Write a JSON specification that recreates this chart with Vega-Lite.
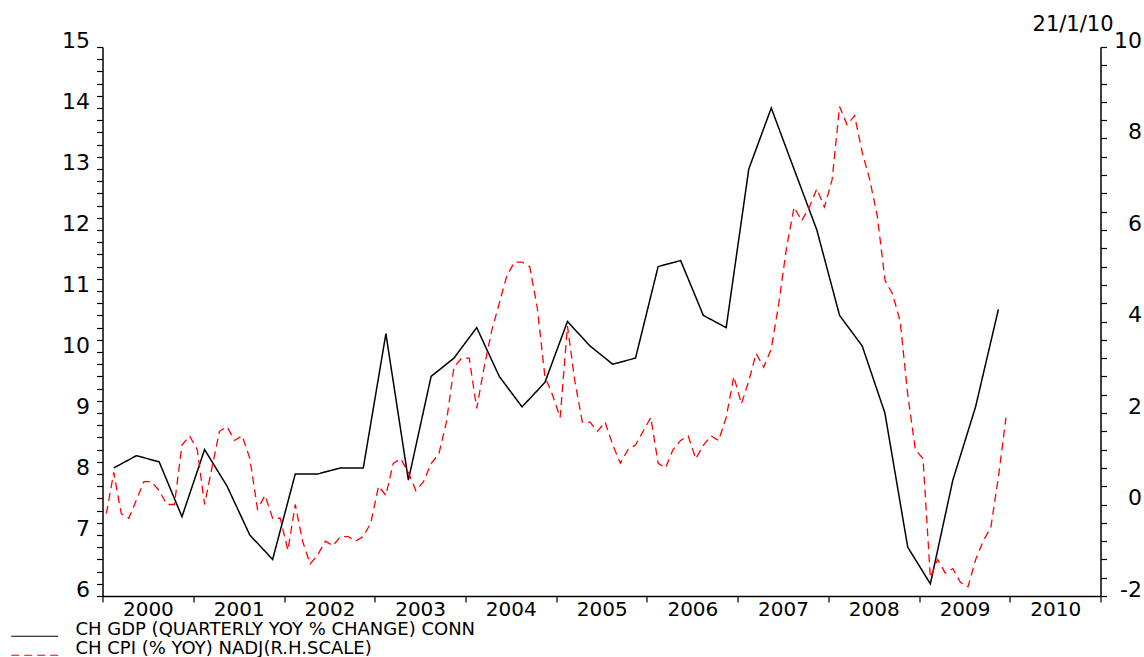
{
"$schema": "https://vega.github.io/schema/vega-lite/v6.json",
"width": 998, "height": 549,
"autosize": {"type": "none"},
"padding": {"left": 102.5, "top": 47, "right": 43.5, "bottom": 61},
"background": "white",
"title": {"text": "21/1/10", "anchor": "end", "frame": "group", "font": "DejaVu Sans", "fontSize": 21, "fontWeight": "normal", "color": "black", "dx": 13, "dy": 8, "offset": 2},
"config": {"view": {"stroke": null}},
"datasets": {
"gdp": [
{"date":"2000-02-15","value":8.1,"series":"CH GDP (QUARTERLY YOY % CHANGE) CONN"},
{"date":"2000-05-15","value":8.3,"series":"CH GDP (QUARTERLY YOY % CHANGE) CONN"},
{"date":"2000-08-15","value":8.2,"series":"CH GDP (QUARTERLY YOY % CHANGE) CONN"},
{"date":"2000-11-15","value":7.3,"series":"CH GDP (QUARTERLY YOY % CHANGE) CONN"},
{"date":"2001-02-15","value":8.4,"series":"CH GDP (QUARTERLY YOY % CHANGE) CONN"},
{"date":"2001-05-15","value":7.8,"series":"CH GDP (QUARTERLY YOY % CHANGE) CONN"},
{"date":"2001-08-15","value":7.0,"series":"CH GDP (QUARTERLY YOY % CHANGE) CONN"},
{"date":"2001-11-15","value":6.6,"series":"CH GDP (QUARTERLY YOY % CHANGE) CONN"},
{"date":"2002-02-15","value":8.0,"series":"CH GDP (QUARTERLY YOY % CHANGE) CONN"},
{"date":"2002-05-15","value":8.0,"series":"CH GDP (QUARTERLY YOY % CHANGE) CONN"},
{"date":"2002-08-15","value":8.1,"series":"CH GDP (QUARTERLY YOY % CHANGE) CONN"},
{"date":"2002-11-15","value":8.1,"series":"CH GDP (QUARTERLY YOY % CHANGE) CONN"},
{"date":"2003-02-15","value":10.3,"series":"CH GDP (QUARTERLY YOY % CHANGE) CONN"},
{"date":"2003-05-15","value":7.9,"series":"CH GDP (QUARTERLY YOY % CHANGE) CONN"},
{"date":"2003-08-15","value":9.6,"series":"CH GDP (QUARTERLY YOY % CHANGE) CONN"},
{"date":"2003-11-15","value":9.9,"series":"CH GDP (QUARTERLY YOY % CHANGE) CONN"},
{"date":"2004-02-15","value":10.4,"series":"CH GDP (QUARTERLY YOY % CHANGE) CONN"},
{"date":"2004-05-15","value":9.6,"series":"CH GDP (QUARTERLY YOY % CHANGE) CONN"},
{"date":"2004-08-15","value":9.1,"series":"CH GDP (QUARTERLY YOY % CHANGE) CONN"},
{"date":"2004-11-15","value":9.5,"series":"CH GDP (QUARTERLY YOY % CHANGE) CONN"},
{"date":"2005-02-15","value":10.5,"series":"CH GDP (QUARTERLY YOY % CHANGE) CONN"},
{"date":"2005-05-15","value":10.1,"series":"CH GDP (QUARTERLY YOY % CHANGE) CONN"},
{"date":"2005-08-15","value":9.8,"series":"CH GDP (QUARTERLY YOY % CHANGE) CONN"},
{"date":"2005-11-15","value":9.9,"series":"CH GDP (QUARTERLY YOY % CHANGE) CONN"},
{"date":"2006-02-15","value":11.4,"series":"CH GDP (QUARTERLY YOY % CHANGE) CONN"},
{"date":"2006-05-15","value":11.5,"series":"CH GDP (QUARTERLY YOY % CHANGE) CONN"},
{"date":"2006-08-15","value":10.6,"series":"CH GDP (QUARTERLY YOY % CHANGE) CONN"},
{"date":"2006-11-15","value":10.4,"series":"CH GDP (QUARTERLY YOY % CHANGE) CONN"},
{"date":"2007-02-15","value":13.0,"series":"CH GDP (QUARTERLY YOY % CHANGE) CONN"},
{"date":"2007-05-15","value":14.0,"series":"CH GDP (QUARTERLY YOY % CHANGE) CONN"},
{"date":"2007-08-15","value":13.0,"series":"CH GDP (QUARTERLY YOY % CHANGE) CONN"},
{"date":"2007-11-15","value":12.0,"series":"CH GDP (QUARTERLY YOY % CHANGE) CONN"},
{"date":"2008-02-15","value":10.6,"series":"CH GDP (QUARTERLY YOY % CHANGE) CONN"},
{"date":"2008-05-15","value":10.1,"series":"CH GDP (QUARTERLY YOY % CHANGE) CONN"},
{"date":"2008-08-15","value":9.0,"series":"CH GDP (QUARTERLY YOY % CHANGE) CONN"},
{"date":"2008-11-15","value":6.8,"series":"CH GDP (QUARTERLY YOY % CHANGE) CONN"},
{"date":"2009-02-15","value":6.2,"series":"CH GDP (QUARTERLY YOY % CHANGE) CONN"},
{"date":"2009-05-15","value":7.9,"series":"CH GDP (QUARTERLY YOY % CHANGE) CONN"},
{"date":"2009-08-15","value":9.1,"series":"CH GDP (QUARTERLY YOY % CHANGE) CONN"},
{"date":"2009-11-15","value":10.7,"series":"CH GDP (QUARTERLY YOY % CHANGE) CONN"}
],
"cpi": [
{"date":"2000-01-15","value":-0.2,"series":"CH CPI (% YOY) NADJ(R.H.SCALE)"},
{"date":"2000-02-15","value":0.7,"series":"CH CPI (% YOY) NADJ(R.H.SCALE)"},
{"date":"2000-03-15","value":-0.2,"series":"CH CPI (% YOY) NADJ(R.H.SCALE)"},
{"date":"2000-04-15","value":-0.3,"series":"CH CPI (% YOY) NADJ(R.H.SCALE)"},
{"date":"2000-05-15","value":0.1,"series":"CH CPI (% YOY) NADJ(R.H.SCALE)"},
{"date":"2000-06-15","value":0.5,"series":"CH CPI (% YOY) NADJ(R.H.SCALE)"},
{"date":"2000-07-15","value":0.5,"series":"CH CPI (% YOY) NADJ(R.H.SCALE)"},
{"date":"2000-08-15","value":0.3,"series":"CH CPI (% YOY) NADJ(R.H.SCALE)"},
{"date":"2000-09-15","value":0.0,"series":"CH CPI (% YOY) NADJ(R.H.SCALE)"},
{"date":"2000-10-15","value":0.0,"series":"CH CPI (% YOY) NADJ(R.H.SCALE)"},
{"date":"2000-11-15","value":1.3,"series":"CH CPI (% YOY) NADJ(R.H.SCALE)"},
{"date":"2000-12-15","value":1.5,"series":"CH CPI (% YOY) NADJ(R.H.SCALE)"},
{"date":"2001-01-15","value":1.2,"series":"CH CPI (% YOY) NADJ(R.H.SCALE)"},
{"date":"2001-02-15","value":0.0,"series":"CH CPI (% YOY) NADJ(R.H.SCALE)"},
{"date":"2001-03-15","value":0.8,"series":"CH CPI (% YOY) NADJ(R.H.SCALE)"},
{"date":"2001-04-15","value":1.6,"series":"CH CPI (% YOY) NADJ(R.H.SCALE)"},
{"date":"2001-05-15","value":1.7,"series":"CH CPI (% YOY) NADJ(R.H.SCALE)"},
{"date":"2001-06-15","value":1.4,"series":"CH CPI (% YOY) NADJ(R.H.SCALE)"},
{"date":"2001-07-15","value":1.5,"series":"CH CPI (% YOY) NADJ(R.H.SCALE)"},
{"date":"2001-08-15","value":1.0,"series":"CH CPI (% YOY) NADJ(R.H.SCALE)"},
{"date":"2001-09-15","value":-0.1,"series":"CH CPI (% YOY) NADJ(R.H.SCALE)"},
{"date":"2001-10-15","value":0.2,"series":"CH CPI (% YOY) NADJ(R.H.SCALE)"},
{"date":"2001-11-15","value":-0.3,"series":"CH CPI (% YOY) NADJ(R.H.SCALE)"},
{"date":"2001-12-15","value":-0.3,"series":"CH CPI (% YOY) NADJ(R.H.SCALE)"},
{"date":"2002-01-15","value":-1.0,"series":"CH CPI (% YOY) NADJ(R.H.SCALE)"},
{"date":"2002-02-15","value":0.0,"series":"CH CPI (% YOY) NADJ(R.H.SCALE)"},
{"date":"2002-03-15","value":-0.8,"series":"CH CPI (% YOY) NADJ(R.H.SCALE)"},
{"date":"2002-04-15","value":-1.3,"series":"CH CPI (% YOY) NADJ(R.H.SCALE)"},
{"date":"2002-05-15","value":-1.1,"series":"CH CPI (% YOY) NADJ(R.H.SCALE)"},
{"date":"2002-06-15","value":-0.8,"series":"CH CPI (% YOY) NADJ(R.H.SCALE)"},
{"date":"2002-07-15","value":-0.9,"series":"CH CPI (% YOY) NADJ(R.H.SCALE)"},
{"date":"2002-08-15","value":-0.7,"series":"CH CPI (% YOY) NADJ(R.H.SCALE)"},
{"date":"2002-09-15","value":-0.7,"series":"CH CPI (% YOY) NADJ(R.H.SCALE)"},
{"date":"2002-10-15","value":-0.8,"series":"CH CPI (% YOY) NADJ(R.H.SCALE)"},
{"date":"2002-11-15","value":-0.7,"series":"CH CPI (% YOY) NADJ(R.H.SCALE)"},
{"date":"2002-12-15","value":-0.4,"series":"CH CPI (% YOY) NADJ(R.H.SCALE)"},
{"date":"2003-01-15","value":0.4,"series":"CH CPI (% YOY) NADJ(R.H.SCALE)"},
{"date":"2003-02-15","value":0.2,"series":"CH CPI (% YOY) NADJ(R.H.SCALE)"},
{"date":"2003-03-15","value":0.9,"series":"CH CPI (% YOY) NADJ(R.H.SCALE)"},
{"date":"2003-04-15","value":1.0,"series":"CH CPI (% YOY) NADJ(R.H.SCALE)"},
{"date":"2003-05-15","value":0.7,"series":"CH CPI (% YOY) NADJ(R.H.SCALE)"},
{"date":"2003-06-15","value":0.3,"series":"CH CPI (% YOY) NADJ(R.H.SCALE)"},
{"date":"2003-07-15","value":0.5,"series":"CH CPI (% YOY) NADJ(R.H.SCALE)"},
{"date":"2003-08-15","value":0.9,"series":"CH CPI (% YOY) NADJ(R.H.SCALE)"},
{"date":"2003-09-15","value":1.1,"series":"CH CPI (% YOY) NADJ(R.H.SCALE)"},
{"date":"2003-10-15","value":1.8,"series":"CH CPI (% YOY) NADJ(R.H.SCALE)"},
{"date":"2003-11-15","value":3.0,"series":"CH CPI (% YOY) NADJ(R.H.SCALE)"},
{"date":"2003-12-15","value":3.2,"series":"CH CPI (% YOY) NADJ(R.H.SCALE)"},
{"date":"2004-01-15","value":3.2,"series":"CH CPI (% YOY) NADJ(R.H.SCALE)"},
{"date":"2004-02-15","value":2.1,"series":"CH CPI (% YOY) NADJ(R.H.SCALE)"},
{"date":"2004-03-15","value":3.0,"series":"CH CPI (% YOY) NADJ(R.H.SCALE)"},
{"date":"2004-04-15","value":3.8,"series":"CH CPI (% YOY) NADJ(R.H.SCALE)"},
{"date":"2004-05-15","value":4.4,"series":"CH CPI (% YOY) NADJ(R.H.SCALE)"},
{"date":"2004-06-15","value":5.0,"series":"CH CPI (% YOY) NADJ(R.H.SCALE)"},
{"date":"2004-07-15","value":5.3,"series":"CH CPI (% YOY) NADJ(R.H.SCALE)"},
{"date":"2004-08-15","value":5.3,"series":"CH CPI (% YOY) NADJ(R.H.SCALE)"},
{"date":"2004-09-15","value":5.2,"series":"CH CPI (% YOY) NADJ(R.H.SCALE)"},
{"date":"2004-10-15","value":4.3,"series":"CH CPI (% YOY) NADJ(R.H.SCALE)"},
{"date":"2004-11-15","value":2.8,"series":"CH CPI (% YOY) NADJ(R.H.SCALE)"},
{"date":"2004-12-15","value":2.4,"series":"CH CPI (% YOY) NADJ(R.H.SCALE)"},
{"date":"2005-01-15","value":1.9,"series":"CH CPI (% YOY) NADJ(R.H.SCALE)"},
{"date":"2005-02-15","value":3.9,"series":"CH CPI (% YOY) NADJ(R.H.SCALE)"},
{"date":"2005-03-15","value":2.7,"series":"CH CPI (% YOY) NADJ(R.H.SCALE)"},
{"date":"2005-04-15","value":1.8,"series":"CH CPI (% YOY) NADJ(R.H.SCALE)"},
{"date":"2005-05-15","value":1.8,"series":"CH CPI (% YOY) NADJ(R.H.SCALE)"},
{"date":"2005-06-15","value":1.6,"series":"CH CPI (% YOY) NADJ(R.H.SCALE)"},
{"date":"2005-07-15","value":1.8,"series":"CH CPI (% YOY) NADJ(R.H.SCALE)"},
{"date":"2005-08-15","value":1.3,"series":"CH CPI (% YOY) NADJ(R.H.SCALE)"},
{"date":"2005-09-15","value":0.9,"series":"CH CPI (% YOY) NADJ(R.H.SCALE)"},
{"date":"2005-10-15","value":1.2,"series":"CH CPI (% YOY) NADJ(R.H.SCALE)"},
{"date":"2005-11-15","value":1.3,"series":"CH CPI (% YOY) NADJ(R.H.SCALE)"},
{"date":"2005-12-15","value":1.6,"series":"CH CPI (% YOY) NADJ(R.H.SCALE)"},
{"date":"2006-01-15","value":1.9,"series":"CH CPI (% YOY) NADJ(R.H.SCALE)"},
{"date":"2006-02-15","value":0.9,"series":"CH CPI (% YOY) NADJ(R.H.SCALE)"},
{"date":"2006-03-15","value":0.8,"series":"CH CPI (% YOY) NADJ(R.H.SCALE)"},
{"date":"2006-04-15","value":1.2,"series":"CH CPI (% YOY) NADJ(R.H.SCALE)"},
{"date":"2006-05-15","value":1.4,"series":"CH CPI (% YOY) NADJ(R.H.SCALE)"},
{"date":"2006-06-15","value":1.5,"series":"CH CPI (% YOY) NADJ(R.H.SCALE)"},
{"date":"2006-07-15","value":1.0,"series":"CH CPI (% YOY) NADJ(R.H.SCALE)"},
{"date":"2006-08-15","value":1.3,"series":"CH CPI (% YOY) NADJ(R.H.SCALE)"},
{"date":"2006-09-15","value":1.5,"series":"CH CPI (% YOY) NADJ(R.H.SCALE)"},
{"date":"2006-10-15","value":1.4,"series":"CH CPI (% YOY) NADJ(R.H.SCALE)"},
{"date":"2006-11-15","value":1.9,"series":"CH CPI (% YOY) NADJ(R.H.SCALE)"},
{"date":"2006-12-15","value":2.8,"series":"CH CPI (% YOY) NADJ(R.H.SCALE)"},
{"date":"2007-01-15","value":2.2,"series":"CH CPI (% YOY) NADJ(R.H.SCALE)"},
{"date":"2007-02-15","value":2.7,"series":"CH CPI (% YOY) NADJ(R.H.SCALE)"},
{"date":"2007-03-15","value":3.3,"series":"CH CPI (% YOY) NADJ(R.H.SCALE)"},
{"date":"2007-04-15","value":3.0,"series":"CH CPI (% YOY) NADJ(R.H.SCALE)"},
{"date":"2007-05-15","value":3.4,"series":"CH CPI (% YOY) NADJ(R.H.SCALE)"},
{"date":"2007-06-15","value":4.4,"series":"CH CPI (% YOY) NADJ(R.H.SCALE)"},
{"date":"2007-07-15","value":5.6,"series":"CH CPI (% YOY) NADJ(R.H.SCALE)"},
{"date":"2007-08-15","value":6.5,"series":"CH CPI (% YOY) NADJ(R.H.SCALE)"},
{"date":"2007-09-15","value":6.2,"series":"CH CPI (% YOY) NADJ(R.H.SCALE)"},
{"date":"2007-10-15","value":6.5,"series":"CH CPI (% YOY) NADJ(R.H.SCALE)"},
{"date":"2007-11-15","value":6.9,"series":"CH CPI (% YOY) NADJ(R.H.SCALE)"},
{"date":"2007-12-15","value":6.5,"series":"CH CPI (% YOY) NADJ(R.H.SCALE)"},
{"date":"2008-01-15","value":7.1,"series":"CH CPI (% YOY) NADJ(R.H.SCALE)"},
{"date":"2008-02-15","value":8.7,"series":"CH CPI (% YOY) NADJ(R.H.SCALE)"},
{"date":"2008-03-15","value":8.3,"series":"CH CPI (% YOY) NADJ(R.H.SCALE)"},
{"date":"2008-04-15","value":8.5,"series":"CH CPI (% YOY) NADJ(R.H.SCALE)"},
{"date":"2008-05-15","value":7.7,"series":"CH CPI (% YOY) NADJ(R.H.SCALE)"},
{"date":"2008-06-15","value":7.1,"series":"CH CPI (% YOY) NADJ(R.H.SCALE)"},
{"date":"2008-07-15","value":6.3,"series":"CH CPI (% YOY) NADJ(R.H.SCALE)"},
{"date":"2008-08-15","value":4.9,"series":"CH CPI (% YOY) NADJ(R.H.SCALE)"},
{"date":"2008-09-15","value":4.6,"series":"CH CPI (% YOY) NADJ(R.H.SCALE)"},
{"date":"2008-10-15","value":4.0,"series":"CH CPI (% YOY) NADJ(R.H.SCALE)"},
{"date":"2008-11-15","value":2.4,"series":"CH CPI (% YOY) NADJ(R.H.SCALE)"},
{"date":"2008-12-15","value":1.2,"series":"CH CPI (% YOY) NADJ(R.H.SCALE)"},
{"date":"2009-01-15","value":1.0,"series":"CH CPI (% YOY) NADJ(R.H.SCALE)"},
{"date":"2009-02-15","value":-1.6,"series":"CH CPI (% YOY) NADJ(R.H.SCALE)"},
{"date":"2009-03-15","value":-1.2,"series":"CH CPI (% YOY) NADJ(R.H.SCALE)"},
{"date":"2009-04-15","value":-1.5,"series":"CH CPI (% YOY) NADJ(R.H.SCALE)"},
{"date":"2009-05-15","value":-1.4,"series":"CH CPI (% YOY) NADJ(R.H.SCALE)"},
{"date":"2009-06-15","value":-1.7,"series":"CH CPI (% YOY) NADJ(R.H.SCALE)"},
{"date":"2009-07-15","value":-1.8,"series":"CH CPI (% YOY) NADJ(R.H.SCALE)"},
{"date":"2009-08-15","value":-1.2,"series":"CH CPI (% YOY) NADJ(R.H.SCALE)"},
{"date":"2009-09-15","value":-0.8,"series":"CH CPI (% YOY) NADJ(R.H.SCALE)"},
{"date":"2009-10-15","value":-0.5,"series":"CH CPI (% YOY) NADJ(R.H.SCALE)"},
{"date":"2009-11-15","value":0.6,"series":"CH CPI (% YOY) NADJ(R.H.SCALE)"},
{"date":"2009-12-15","value":1.9,"series":"CH CPI (% YOY) NADJ(R.H.SCALE)"}
]
},
"layer": [
{
"data": {"name": "gdp"},
"mark": {"type": "line", "strokeWidth": 1.5, "clip": false},
"encoding": {
"x": {"field": "date", "type": "temporal", "timeUnit": "yearquarter", "bandPosition": 0.5,
 "scale": {"domain": [{"year": 2000}, {"year": 2011}], "nice": false},
 "axis": {"title": null, "grid": false,
  "values": [{"year": 2000}, {"year": 2001}, {"year": 2002}, {"year": 2003}, {"year": 2004}, {"year": 2005}, {"year": 2006}, {"year": 2007}, {"year": 2008}, {"year": 2009}, {"year": 2010}, {"year": 2011}],
  "labelExpr": "year(datum.value) >= 2011 ? '' : timeFormat(datum.value, '%Y')",
  "labelOffset": 45.4, "labelPadding": -3, "labelFlush": false, "labelOverlap": false,
  "labelFont": "DejaVu Sans", "labelFontSize": 20, "labelColor": "black",
  "tickSize": 6, "tickColor": "black", "tickWidth": 1.2, "domainColor": "black", "domainWidth": 1.5}},
"y": {"field": "value", "type": "quantitative",
 "scale": {"domain": [6, 15], "nice": false, "zero": false},
 "axis": {"title": null, "grid": false, "orient": "left",
  "values": [6,6.2,6.4,6.6,6.8,7,7.2,7.4,7.6,7.8,8,8.2,8.4,8.6,8.8,9,9.2,9.4,9.6,9.8,10,10.2,10.4,10.6,10.8,11,11.2,11.4,11.6,11.8,12,12.2,12.4,12.6,12.8,13,13.2,13.4,13.6,13.8,14,14.2,14.4,14.6,14.8,15],
  "labelExpr": "abs(datum.value - round(datum.value)) < 0.01 ? '' + round(datum.value) : ''",
  "labelBaseline": "alphabetic", "labelPadding": 7, "labelFlush": false, "labelOverlap": false,
  "labelFont": "DejaVu Sans", "labelFontSize": 22, "labelColor": "black",
  "tickSize": 6, "tickColor": "black", "tickWidth": 1.2, "domainColor": "black", "domainWidth": 1.5}},
"color": {"field": "series", "type": "nominal",
 "scale": {"domain": ["CH GDP (QUARTERLY YOY % CHANGE) CONN", "CH CPI (% YOY) NADJ(R.H.SCALE)"], "range": ["black", "red"]},
 "legend": {"title": null, "orient": "none", "legendX": -76.8, "legendY": 574, "direction": "vertical",
  "symbolType": "M-3,0.8H3", "symbolSize": 245, "symbolStrokeWidth": 1.2,
  "labelFont": "DejaVu Sans", "labelFontSize": 18, "labelColor": "black", "labelOffset": 31.7, "labelLimit": 0,
  "padding": 0, "rowPadding": 1}},
"strokeDash": {"field": "series", "type": "nominal",
 "scale": {"domain": ["CH GDP (QUARTERLY YOY % CHANGE) CONN", "CH CPI (% YOY) NADJ(R.H.SCALE)"], "range": [[1, 0], [8, 5]]},
 "legend": {"title": null, "orient": "none", "legendX": -76.8, "legendY": 574, "direction": "vertical",
  "symbolType": "M-3,0.8H3", "symbolSize": 245, "symbolStrokeWidth": 1.2,
  "labelFont": "DejaVu Sans", "labelFontSize": 18, "labelColor": "black", "labelOffset": 31.7, "labelLimit": 0,
  "padding": 0, "rowPadding": 1}}
}
},
{
"data": {"name": "cpi"},
"mark": {"type": "line", "strokeWidth": 1.3, "clip": false},
"encoding": {
"x": {"field": "date", "type": "temporal", "timeUnit": "yearmonth", "bandPosition": 0.5},
"y": {"field": "value", "type": "quantitative",
 "scale": {"domain": [-2, 10], "nice": false, "zero": false},
 "axis": {"title": null, "grid": false, "orient": "right",
  "values": [-2,-1.6,-1.2,-0.8,-0.4,0,0.4,0.8,1.2,1.6,2,2.4,2.8,3.2,3.6,4,4.4,4.8,5.2,5.6,6,6.4,6.8,7.2,7.6,8,8.4,8.8,9.2,9.6,10],
  "labelExpr": "abs(datum.value / 2 - round(datum.value / 2)) < 0.01 ? '' + round(datum.value) : ''",
  "labelBaseline": "alphabetic", "labelAlign": "right", "labelPadding": 35, "labelFlush": false, "labelOverlap": false,
  "labelFont": "DejaVu Sans", "labelFontSize": 22, "labelColor": "black",
  "tickSize": 6, "tickColor": "black", "tickWidth": 1.2, "domainColor": "black", "domainWidth": 1.5}},
"color": {"field": "series", "type": "nominal"},
"strokeDash": {"field": "series", "type": "nominal"}
}
}
],
"resolve": {"scale": {"y": "independent"}}
}
